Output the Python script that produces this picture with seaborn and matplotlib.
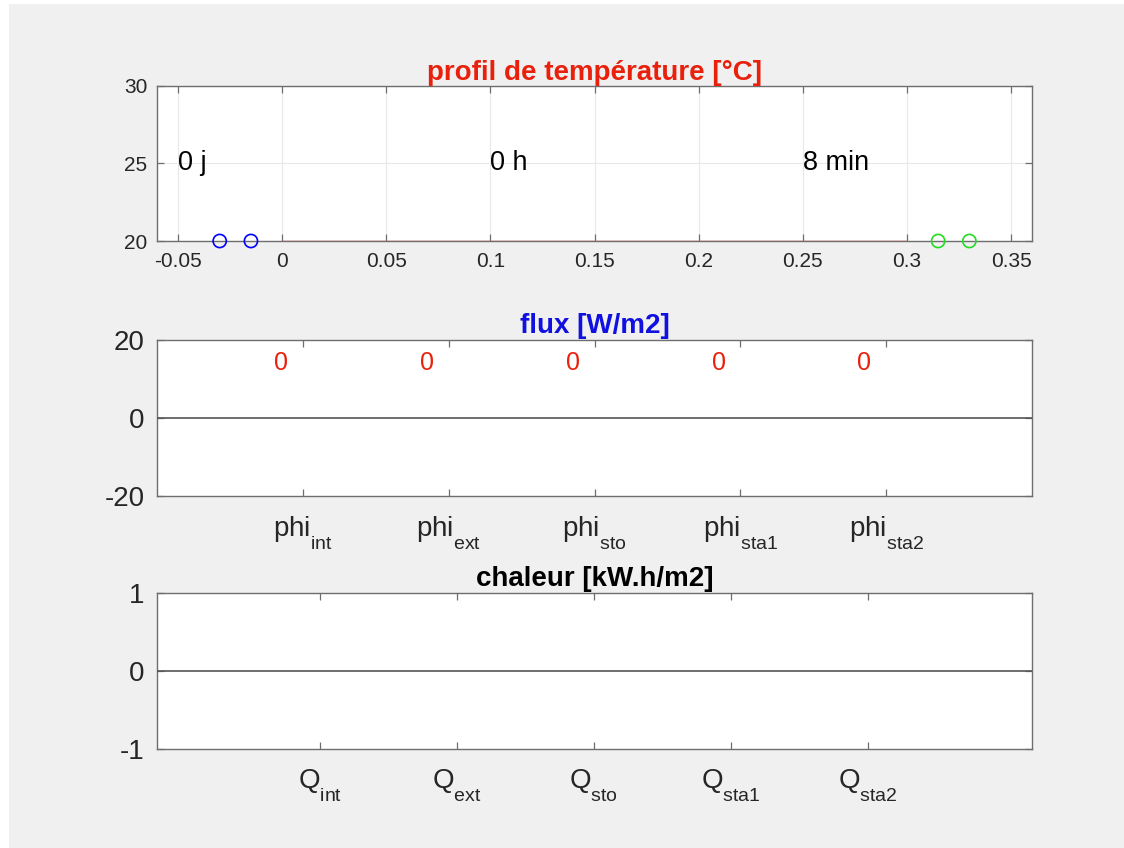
import numpy as np
import pandas as pd
import matplotlib
matplotlib.use("Agg")
import matplotlib.pyplot as plt
import seaborn as sns
from matplotlib.patches import Rectangle

# temperature profile data
x_wall = [0.0, 0.3]
T_wall = [20, 20]
x_int = [-0.03, -0.015]
T_int = [20, 20]
x_ext = [0.315, 0.33]
T_ext = [20, 20]
time_labels = ["0 j", "0 h", "8 min"]
time_x = [-0.05, 0.1, 0.25]

# flux and heat bars
flux_names = ["int", "ext", "sto", "sta1", "sta2"]
flux_values = [0, 0, 0, 0, 0]
heat_values = [0, 0, 0, 0, 0]

sns.set_style("ticks")
plt.rcParams["font.family"] = ["Liberation Sans", "DejaVu Sans"]
plt.rcParams["mathtext.default"] = "regular"
plt.rcParams["axes.unicode_minus"] = False

# push subscripts a little lower, like the matlab tex interpreter
try:
    from matplotlib import _mathtext
    _mathtext.FontConstantsBase.sub1 = 0.9
    _mathtext.FontConstantsBase.script_space = 0.0
except Exception:
    pass

fig = plt.figure(figsize=(11.24, 8.48), dpi=100)
fig.patch.set_facecolor("white")
fig.patches.append(Rectangle((9 / 1124, 0), 1, 1 - 4 / 848, transform=fig.transFigure,
                             facecolor="#f0f0f0", edgecolor="none", zorder=-10))

spine_col = "#6e6e6e"
txt_col = "#262626"


def style_axes(ax, size, pad_x, pad_y):
    for s in ax.spines.values():
        s.set_visible(True)
        s.set_color(spine_col)
        s.set_linewidth(1.0)
    ax.set_facecolor("white")
    ax.tick_params(direction="in", top=True, right=True, length=5, width=0.9,
                   color=spine_col, labelsize=size, labelcolor=txt_col)
    ax.tick_params(axis="x", pad=pad_x)
    ax.tick_params(axis="y", pad=pad_y)
    ax.set_xlabel("")
    ax.set_ylabel("")


# --- temperature profile
ax1 = fig.add_axes([0.1397, 0.7158, 0.7785, 0.1828])
sns.lineplot(x=x_wall, y=T_wall, ax=ax1, color="#e03030", linewidth=1.0, zorder=5)
sns.scatterplot(x=x_int, y=T_int, ax=ax1, marker="o", s=90, facecolors="none",
                edgecolor="blue", linewidth=1.2, zorder=6, clip_on=False)
sns.scatterplot(x=x_ext, y=T_ext, ax=ax1, marker="o", s=90, facecolors="none",
                edgecolor="#22dd22", linewidth=1.2, zorder=6, clip_on=False)
ax1.set_xlim(-0.0601, 0.3601)
ax1.set_ylim(20, 30)
ax1.set_xticks(np.arange(-0.05, 0.36, 0.05))
ax1.set_xticklabels(["-0.05", "0", "0.05", "0.1", "0.15", "0.2", "0.25", "0.3", "0.35"])
ax1.set_yticks([20, 25, 30])
ax1.grid(True, color="#e8e8e8", linewidth=0.8)
style_axes(ax1, 15, 8, 7)
for lab, xp in zip(time_labels, time_x):
    ax1.text(xp, 25, lab, fontsize=19.5, color="black", ha="left", va="center")
ax1.set_title("profil de température [°C]", color="#e8200c", fontsize=20,
              fontweight="bold", pad=4)

# --- flux
ax2 = fig.add_axes([0.1397, 0.4151, 0.7785, 0.184])
flux_df = pd.DataFrame({"name": ["phi$_{" + n + "}$" for n in flux_names],
                        "value": flux_values})
sns.barplot(data=flux_df, x="name", y="value", ax=ax2, color="#0072bd", width=0.8)
ax2.axhline(0, color="#555555", linewidth=1.2, zorder=3)
ax2.set_xlim(-1, 5)
ax2.set_ylim(-20, 20)
ax2.set_yticks([-20, 0, 20])
style_axes(ax2, 20, 13, 9)
for i, v in enumerate(flux_values):
    ax2.text(i - 0.15, 14, f"{v:g}", color="#e8200c", fontsize=18, ha="center", va="center")
ax2.set_title("flux [W/m2]", color="#1010e0", fontsize=20, fontweight="bold", pad=5)

# --- heat
ax3 = fig.add_axes([0.1397, 0.1167, 0.7785, 0.184])
heat_df = pd.DataFrame({"name": ["Q$_{" + n + "}$" for n in flux_names],
                        "value": heat_values})
sns.barplot(data=heat_df, x="name", y="value", ax=ax3, color="#0072bd", width=0.8)
ax3.axhline(0, color="#555555", linewidth=1.2, zorder=3)
ax3.set_xlim(-1.19, 5.2)
ax3.set_ylim(-1, 1)
ax3.set_yticks([-1, 0, 1])
style_axes(ax3, 20, 13, 9)
ax3.set_title("chaleur [kW.h/m2]", color="black", fontsize=20, fontweight="bold", pad=5)

fig.savefig("out.png", dpi=100, facecolor=fig.get_facecolor())
